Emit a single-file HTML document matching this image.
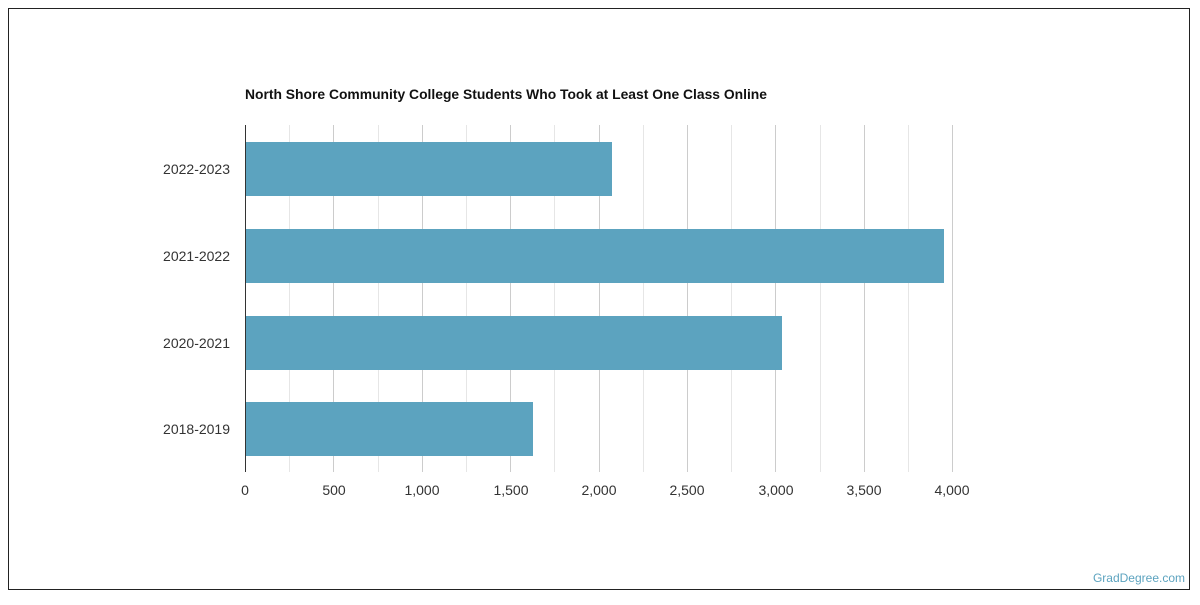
<!DOCTYPE html>
<html><head><style>
body{margin:0;background:#fff;}
svg text{font-family:"Liberation Sans",sans-serif;}
</style></head><body>
<svg width="1200" height="600" xmlns="http://www.w3.org/2000/svg">
<rect x="8.5" y="8.5" width="1181" height="581" fill="#fff" stroke="#222" stroke-width="1"/>
<text x="245" y="99" font-size="14" font-weight="bold" fill="#111" textLength="522" lengthAdjust="spacingAndGlyphs">North Shore Community College Students Who Took at Least One Class Online</text>
<g stroke="#e6e6e6" stroke-width="1">
<line x1="289.5" y1="125" x2="289.5" y2="472"/><line x1="378.5" y1="125" x2="378.5" y2="472"/>
<line x1="466.5" y1="125" x2="466.5" y2="472"/><line x1="554.5" y1="125" x2="554.5" y2="472"/>
<line x1="643.5" y1="125" x2="643.5" y2="472"/><line x1="731.5" y1="125" x2="731.5" y2="472"/>
<line x1="820.5" y1="125" x2="820.5" y2="472"/><line x1="908.5" y1="125" x2="908.5" y2="472"/>
</g>
<g stroke="#cccccc" stroke-width="1">
<line x1="333.5" y1="125" x2="333.5" y2="472"/><line x1="422.5" y1="125" x2="422.5" y2="472"/>
<line x1="510.5" y1="125" x2="510.5" y2="472"/><line x1="599.5" y1="125" x2="599.5" y2="472"/>
<line x1="687.5" y1="125" x2="687.5" y2="472"/><line x1="775.5" y1="125" x2="775.5" y2="472"/>
<line x1="864.5" y1="125" x2="864.5" y2="472"/><line x1="952.5" y1="125" x2="952.5" y2="472"/>
</g>
<g fill="#5ca3bf">
<rect x="245" y="142" width="367" height="54"/>
<rect x="245" y="229" width="699" height="54"/>
<rect x="245" y="316" width="537" height="54"/>
<rect x="245" y="402" width="288" height="54"/>
</g>
<line x1="245.5" y1="125" x2="245.5" y2="472" stroke="#333"/>
<g font-size="14" fill="#333" text-anchor="end">
<text x="230" y="174">2022-2023</text>
<text x="230" y="261">2021-2022</text>
<text x="230" y="348">2020-2021</text>
<text x="230" y="434">2018-2019</text>
</g>
<g font-size="14" fill="#333" text-anchor="middle">
<text x="245" y="495">0</text><text x="334" y="495">500</text><text x="422" y="495">1,000</text>
<text x="511" y="495">1,500</text><text x="599" y="495">2,000</text><text x="687" y="495">2,500</text>
<text x="776" y="495">3,000</text><text x="864" y="495">3,500</text><text x="952" y="495">4,000</text>
</g>
<text x="1185" y="582" font-size="12" fill="#5ca3bf" text-anchor="end">GradDegree.com</text>
</svg>
</body></html>
